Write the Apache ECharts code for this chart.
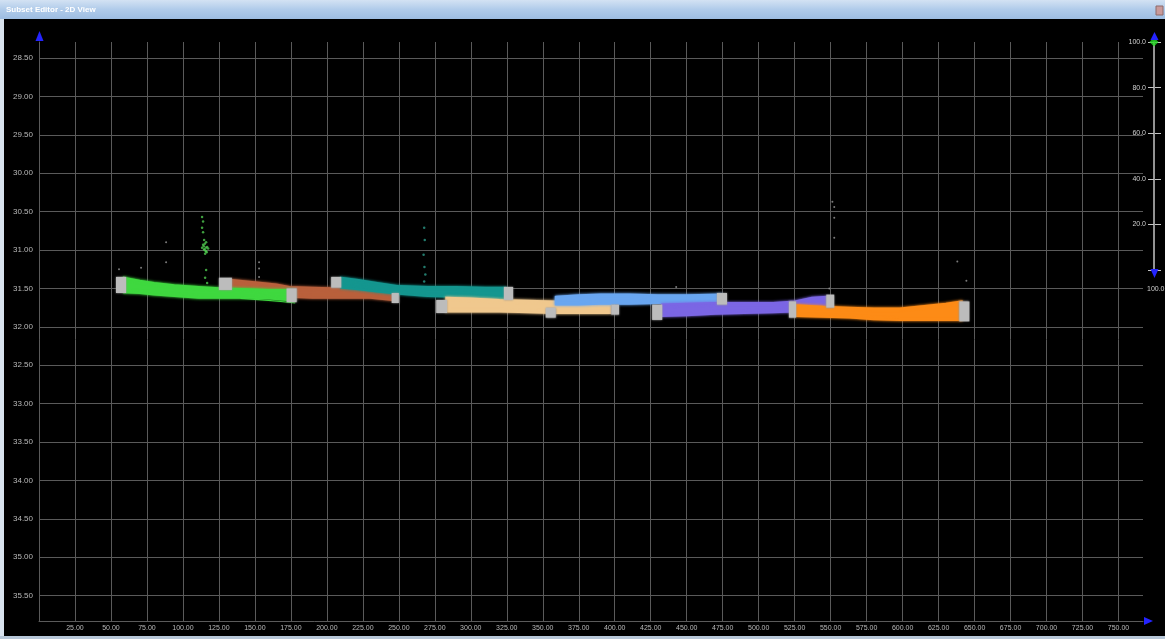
<!DOCTYPE html>
<html><head><meta charset="utf-8">
<script src="https://cdn.jsdelivr.net/npm/echarts@6/dist/echarts.min.js"></script>
<style>html,body{margin:0;padding:0;background:#000;}#c{width:1165px;height:639px;}</style>
</head><body><div id="c"></div>
<script>
// ---- data ----
const greenX = [59, 70, 80, 94, 111, 128, 146, 160, 172, 177];
const greenTop = [31.36, 31.40, 31.43, 31.46, 31.48, 31.50, 31.51, 31.52, 31.52, 31.53];
const greenBot = [31.55, 31.56, 31.58, 31.60, 31.62, 31.62, 31.62, 31.63, 31.65, 31.66];
const greenTrailX = [140, 155, 168, 178];
const greenTrailY = [31.63, 31.65, 31.67, 31.69];

const brownX = [134, 150, 165, 174, 190, 210, 230, 245];
const brownTop = [31.39, 31.42, 31.45, 31.48, 31.49, 31.50, 31.51, 31.53];
const brownBot = [31.50, 31.53, 31.58, 31.61, 31.62, 31.62, 31.62, 31.65];

const tealX = [210, 222, 235, 250, 270, 290, 310, 324];
const tealTop = [31.36, 31.39, 31.43, 31.47, 31.48, 31.48, 31.49, 31.49];
const tealBot = [31.49, 31.51, 31.54, 31.57, 31.60, 31.61, 31.63, 31.65];

const tanX = [283, 300, 320, 340, 358, 375, 397];
const tanTop = [31.62, 31.63, 31.65, 31.66, 31.67, 31.69, 31.71];
const tanBot = [31.80, 31.80, 31.80, 31.81, 31.82, 31.82, 31.82];

const blueX = [359, 375, 390, 410, 430, 450, 474];
const blueTop = [31.61, 31.59, 31.58, 31.58, 31.59, 31.59, 31.58];
const blueBot = [31.71, 31.71, 31.70, 31.70, 31.69, 31.69, 31.70];

const purpleX = [433, 450, 470, 490, 510, 525, 537, 547];
const purpleTop = [31.71, 31.70, 31.69, 31.69, 31.69, 31.67, 31.62, 31.61];
const purpleBot = [31.86, 31.85, 31.83, 31.82, 31.81, 31.80, 31.78, 31.78];

const orangeX = [526, 545, 563, 580, 598, 615, 630, 641];
const orangeTop = [31.72, 31.74, 31.75, 31.76, 31.76, 31.73, 31.70, 31.67];
const orangeBot = [31.86, 31.87, 31.88, 31.90, 31.91, 31.91, 31.91, 31.91];

const blockX0 = [53.5, 125, 172, 245, 203, 323, 276, 352, 397.6, 426, 471, 521, 547, 639.4];
const blockX1 = [60.5, 134, 179, 250, 210, 329.4, 283.5, 359, 403, 433, 478, 526, 552.5, 646.4];
const blockTop = [31.35, 31.36, 31.50, 31.56, 31.35, 31.48, 31.65, 31.75, 31.71, 31.71, 31.56, 31.67, 31.58, 31.67];
const blockBot = [31.56, 31.52, 31.68, 31.69, 31.49, 31.65, 31.82, 31.88, 31.84, 31.91, 31.71, 31.88, 31.75, 31.93];

const greenDotsX = [113.3, 114, 113.3, 114, 114.7, 116.1, 114, 116.8, 114.7, 116.1, 115.4, 117.5, 113.3, 115.8, 115, 114.5, 116.5, 115.2, 115.9, 116.1, 115.4, 116.8];
const greenDotsY = [30.57, 30.63, 30.71, 30.77, 30.87, 30.90, 30.93, 30.96, 30.99, 31.02, 31.05, 30.98, 30.97, 31.01, 31.00, 30.95, 31.03, 30.92, 30.97, 31.26, 31.36, 31.43];
const tealDotsX = [267.6, 268, 267.2, 267.8, 268.4, 267.6];
const tealDotsY = [30.71, 30.87, 31.06, 31.22, 31.32, 31.41];
const grayDotsX = [88.3, 88.3, 70.9, 55.6, 152.9, 152.9, 152.9, 551.2, 552.5, 552.5, 552.5, 638, 644.3, 442.7, 549.1];
const grayDotsY = [30.90, 31.16, 31.23, 31.25, 31.16, 31.24, 31.35, 30.37, 30.44, 30.58, 30.84, 31.15, 31.40, 31.48, 31.50];

const sliderValue = [100];
const sliderBottomLabel = '100.0';
const titleText = 'Subset Editor - 2D View';

// ---- chart ----
const chart = echarts.init(document.getElementById('c'), null, {renderer: 'canvas'});
const GRID_C = '#5a5a5a';
const LABEL_C = '#b9b9b9';
const FONT = '"Liberation Sans", Arial, sans-serif';

function strip(name, xs, tops, bots, color, z) {
  return {
    type: 'custom', name: name, xAxisIndex: 0, yAxisIndex: 0, silent: true, z: z,
    data: [[xs[0], tops[0]]],
    renderItem: function (params, api) {
      const pts = [];
      for (let i = 0; i < xs.length; i++) pts.push(api.coord([xs[i], tops[i]]));
      for (let i = xs.length - 1; i >= 0; i--) pts.push(api.coord([xs[i], bots[i]]));
      return {type: 'polygon', shape: {points: pts},
        style: {fill: color, stroke: color, lineWidth: 2, shadowBlur: 3, shadowColor: color}};
    }
  };
}

const blockData = blockX0.map((v, i) => [v, blockX1[i], blockTop[i], blockBot[i]]);

const xCommon = {min: 0, max: 767, interval: 25};

const option = {
  backgroundColor: '#000',
  animation: false,
  grid: [
    {left: 39, right: 22, top: 58, bottom: 18, show: false},
    {left: 1154, right: 10, top: 42, bottom: 369, show: false},
    {left: 39, right: 22, top: 42, height: 16, show: false}
  ],
  xAxis: [
    {
      type: 'value', gridIndex: 0, min: xCommon.min, max: xCommon.max, interval: xCommon.interval,
      axisLine: {show: true, lineStyle: {color: GRID_C}},
      axisTick: {show: false},
      splitLine: {show: true, showMaxLine: false, lineStyle: {color: GRID_C, width: 1}},
      axisLabel: {
        color: LABEL_C, fontSize: 7, fontFamily: FONT, margin: 4,
        showMaxLabel: false,
        formatter: v => (v > 0 && Math.abs(v / 25 - Math.round(v / 25)) < 1e-6) ? v.toFixed(2) : ''
      }
    },
    {type: 'value', gridIndex: 1, min: 0, max: 1, show: false},
    {
      type: 'value', gridIndex: 2, min: xCommon.min, max: xCommon.max, interval: xCommon.interval,
      axisLine: {show: false}, axisTick: {show: false}, axisLabel: {show: false},
      splitLine: {show: true, showMaxLine: false, lineStyle: {color: GRID_C, width: 1}}
    }
  ],
  yAxis: [
    {
      type: 'value', gridIndex: 0, inverse: true, min: 28.5, max: 35.83, interval: 0.5,
      axisLine: {show: true, lineStyle: {color: GRID_C}},
      axisTick: {show: false},
      splitLine: {show: true, showMaxLine: false, lineStyle: {color: GRID_C, width: 1}},
      axisLabel: {
        color: LABEL_C, fontSize: 8, fontFamily: FONT, margin: 6,
        showMaxLabel: false,
        formatter: v => (Math.abs(v * 2 - Math.round(v * 2)) < 1e-6) ? v.toFixed(2) : ''
      }
    },
    {
      type: 'value', gridIndex: 1, min: 0, max: 100, interval: 20, position: 'left',
      axisLine: {show: true, lineStyle: {color: '#c4c4c4', width: 1.5}},
      axisTick: {show: true, length: 6, lineStyle: {color: '#c4c4c4'}},
      splitLine: {show: false},
      axisLabel: {color: '#cfcfcf', fontSize: 7, fontFamily: FONT, margin: 8,
        formatter: v => v === 0 ? '' : v.toFixed(1)}
    },
    {
      type: 'value', gridIndex: 1, min: 0, max: 100, interval: 20, position: 'right',
      axisLine: {show: false},
      axisTick: {show: true, length: 6, lineStyle: {color: '#c4c4c4'}},
      axisLabel: {show: false},
      splitLine: {show: false}
    },
    {
      type: 'value', gridIndex: 2, min: 0, max: 1,
      axisLine: {show: true, lineStyle: {color: GRID_C}},
      axisTick: {show: false}, axisLabel: {show: false}, splitLine: {show: false}
    }
  ],
  series: [
    strip('brown', brownX, brownTop, brownBot, '#b9603c', 2),
    strip('green', greenX, greenTop, greenBot, '#3fd83f', 3),
    {type: 'line', name: 'greenTrail', xAxisIndex: 0, yAxisIndex: 0, z: 3, symbol: 'none',
      lineStyle: {color: '#3fd83f', width: 1.2}, data: greenTrailX.map((v, i) => [v, greenTrailY[i]])},
    strip('teal', tealX, tealTop, tealBot, '#14968f', 4),
    strip('tan', tanX, tanTop, tanBot, '#f0c88e', 5),
    strip('blue', blueX, blueTop, blueBot, '#69a6f0', 6),
    strip('purple', purpleX, purpleTop, purpleBot, '#7b66e4', 7),
    strip('orange', orangeX, orangeTop, orangeBot, '#fd8b16', 8),
    {
      type: 'custom', name: 'blocks', xAxisIndex: 0, yAxisIndex: 0, silent: true, z: 9,
      data: blockData,
      renderItem: function (params, api) {
        const a = api.coord([api.value(0), api.value(2)]);
        const b = api.coord([api.value(1), api.value(3)]);
        return {type: 'rect', shape: {x: a[0], y: a[1], width: b[0] - a[0], height: b[1] - a[1]},
          style: {fill: '#bcbcbc', shadowBlur: 2, shadowColor: '#9a9a9a'}};
      }
    },
    {type: 'scatter', name: 'greenDots', xAxisIndex: 0, yAxisIndex: 0, symbolSize: 2.5, z: 10,
      itemStyle: {color: '#4fc84f'}, data: greenDotsX.map((v, i) => [v, greenDotsY[i]])},
    {type: 'scatter', name: 'tealDots', xAxisIndex: 0, yAxisIndex: 0, symbolSize: 2.5, z: 10,
      itemStyle: {color: '#2a9a88'}, data: tealDotsX.map((v, i) => [v, tealDotsY[i]])},
    {type: 'scatter', name: 'grayDots', xAxisIndex: 0, yAxisIndex: 0, symbolSize: 2, z: 10,
      itemStyle: {color: '#9a9a9a'}, data: grayDotsX.map((v, i) => [v, grayDotsY[i]])},
    {type: 'scatter', name: 'slider', xAxisIndex: 1, yAxisIndex: 1, symbol: 'diamond', symbolSize: [9, 9], z: 12,
      itemStyle: {color: '#22dd22'}, data: sliderValue.map(v => [0, v])}
  ],
  graphic: [
    {type: 'rect', left: 0, top: 0, z: 100, shape: {width: 1165, height: 19},
      style: {fill: new echarts.graphic.LinearGradient(0, 0, 0, 1, [
        {offset: 0, color: '#d3e2f3'}, {offset: 0.5, color: '#b0cbea'}, {offset: 1, color: '#9dbde2'}])}},
    {type: 'text', x: 6, y: 10, z: 101, style: {text: titleText, fill: '#ffffff',
      font: 'bold 8px ' + FONT, verticalAlign: 'middle'}},
    {type: 'rect', x: 1156, y: 6, z: 101, shape: {width: 7, height: 9},
      style: {fill: '#c99a9a', stroke: '#8e6a6a', lineWidth: 1}},
    {type: 'rect', x: 0, y: 19, z: 100, shape: {width: 4, height: 620}, style: {fill: '#d9e3ee'}},
    {type: 'rect', x: 0, y: 636, z: 100, shape: {width: 1165, height: 3}, style: {fill: '#b7c7d8'}},
    {type: 'polygon', z: 100, shape: {points: [[39.5, 31], [35.5, 41], [43.5, 41]]}, style: {fill: '#2424ff'}},
    {type: 'polygon', z: 100, shape: {points: [[1153, 621], [1144, 617], [1144, 625]]}, style: {fill: '#2424ff'}},
    {type: 'polygon', z: 100, shape: {points: [[1154.5, 32], [1150.5, 40], [1158.5, 40]]}, style: {fill: '#2424ff'}},
    {type: 'polygon', z: 100, shape: {points: [[1154.5, 278], [1150.5, 269], [1158.5, 269]]}, style: {fill: '#2424ff'}},
    {type: 'text', x: 1147, y: 289, z: 100, style: {text: sliderBottomLabel, fill: '#cfcfcf',
      font: '7px ' + FONT, verticalAlign: 'middle'}}
  ]
};
chart.setOption(option);
</script>
</body></html>
